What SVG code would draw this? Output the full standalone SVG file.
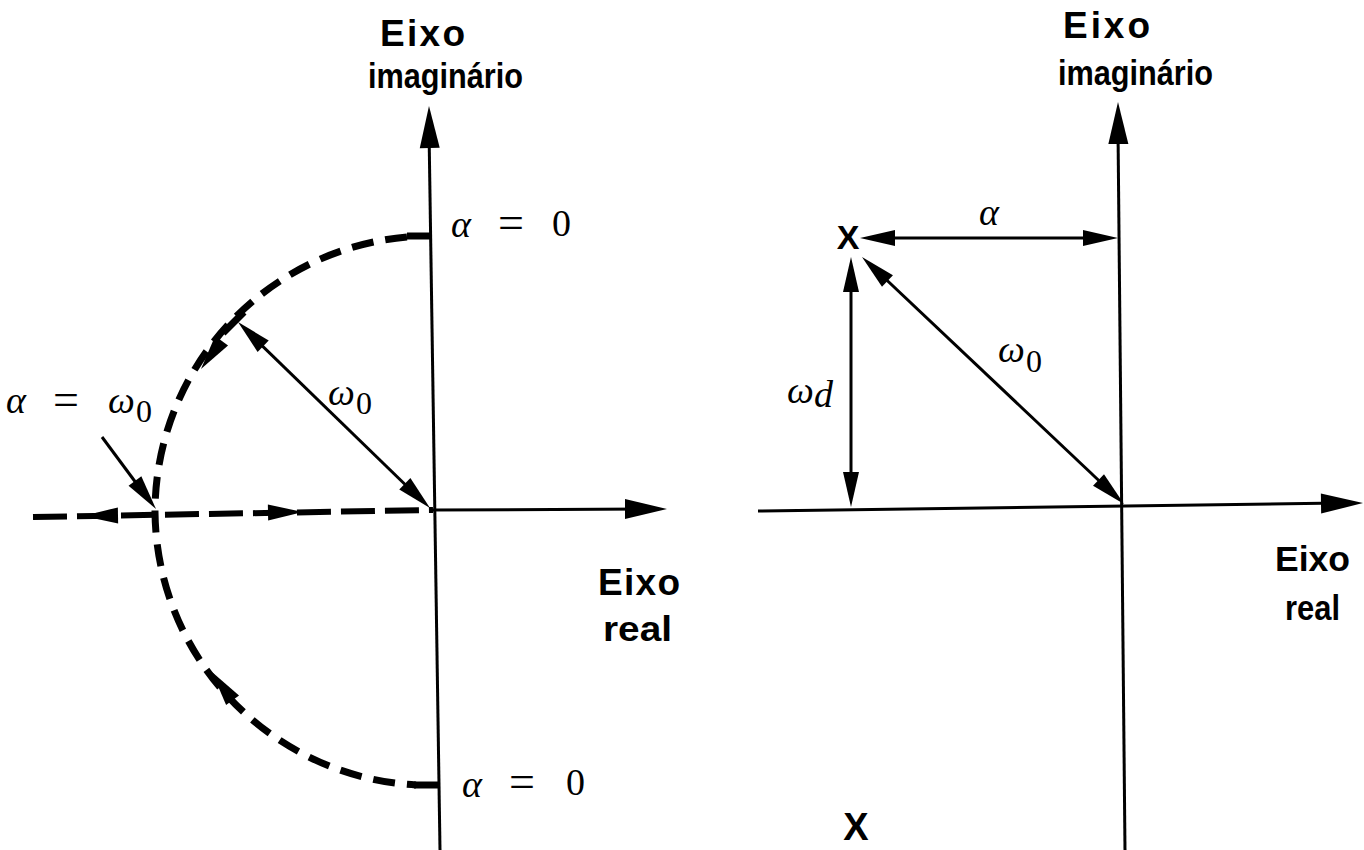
<svg xmlns="http://www.w3.org/2000/svg" xmlns:xlink="http://www.w3.org/1999/xlink" width="1364" height="850" viewBox="0 0 1364 850">
<style>
.lbl{font-family:"Liberation Sans",Arial,sans-serif;font-weight:bold;font-size:35px;fill:#000}
.big{font-size:37px}
.m{font-family:"Liberation Serif","Times New Roman",serif;font-size:38px;fill:#000}
.eq{font-family:"Liberation Serif","Times New Roman",serif;font-size:46px;fill:#000}
.mi{font-family:"Liberation Serif","Times New Roman",serif;font-style:italic;font-size:38px;fill:#000}
.sub{font-family:"Liberation Serif","Times New Roman",serif;font-size:32px;fill:#000}
.ln{stroke:#000;stroke-width:3;fill:none}
.dash{stroke:#000;stroke-width:7;fill:none;stroke-dasharray:22 12}
.tick{stroke:#000;stroke-width:7;fill:none}
.pole{font-family:"Liberation Sans",Arial,sans-serif;font-weight:bold;fill:#000}
</style>
<defs>
<path id="ah" d="M0,0 L-35,-8 L-35,8 Z" fill="#000"/>
<path id="ahb" d="M0,0 L-42,-10 L-42,10 Z" fill="#000"/>
</defs>
<rect width="1364" height="850" fill="#fff"/>

<g id="connectors">
  <!-- left diagram axes -->
  <line class="ln" x1="440" y1="850" x2="429" y2="130"/>
  <use xlink:href="#ahb" transform="translate(429,106) rotate(-91)"/>
  <line class="ln" x1="433" y1="510" x2="645" y2="509"/>
  <use xlink:href="#ahb" transform="translate(667,509) rotate(0)"/>
  <!-- left dashed real-axis locus -->
  <path d="M33,517 L433,510" stroke="#000" stroke-width="6" fill="none" stroke-dasharray="34 10"/>
  <use xlink:href="#ah" transform="translate(83,516) rotate(179)"/>
  <use xlink:href="#ah" transform="translate(303,512) rotate(-1)"/>
  <!-- dashed circle locus -->
  <path class="dash" d="M407,237 A276,276 0 0 0 155,512 A276,276 0 0 0 416,785"/>
  <line class="tick" x1="407" y1="236" x2="431" y2="236"/>
  <line class="tick" x1="414" y1="785" x2="439" y2="785"/>
  <use xlink:href="#ah" transform="translate(201,369) rotate(126)"/>
  <use xlink:href="#ah" transform="translate(212,672) rotate(-126)"/>
  <!-- radius omega0 -->
  <line class="tick" x1="223" y1="333" x2="244" y2="312"/>
  <line class="ln" x1="250" y1="334" x2="418" y2="497"/>
  <use xlink:href="#ah" transform="translate(430,508) rotate(44)"/>
  <use xlink:href="#ah" transform="translate(238,322) rotate(224)"/>
  <!-- alpha = omega0 pointer -->
  <line class="ln" x1="102" y1="437" x2="145" y2="495"/>
  <use xlink:href="#ah" transform="translate(156,509) rotate(53)"/>

  <!-- right diagram axes -->
  <line class="ln" x1="1125" y1="850" x2="1118" y2="130"/>
  <use xlink:href="#ahb" transform="translate(1118,102) rotate(-90.5)"/>
  <line class="ln" x1="758" y1="511" x2="1340" y2="503"/>
  <use xlink:href="#ahb" transform="translate(1363,503) rotate(-0.8)"/>
  <!-- alpha dimension -->
  <line class="ln" x1="880" y1="238" x2="1100" y2="238"/>
  <use xlink:href="#ah" transform="translate(860,238) rotate(180)"/>
  <use xlink:href="#ah" transform="translate(1118,238) rotate(0)"/>
  <!-- omega_d dimension -->
  <line class="ln" x1="851" y1="275" x2="851" y2="490"/>
  <use xlink:href="#ah" transform="translate(851,257) rotate(-90)"/>
  <use xlink:href="#ah" transform="translate(851,507) rotate(90)"/>
  <!-- omega0 radial -->
  <line class="ln" x1="875" y1="269" x2="1111" y2="492"/>
  <use xlink:href="#ah" transform="translate(862,257) rotate(223.3)"/>
  <use xlink:href="#ah" transform="translate(1124,504) rotate(43.3)"/>
</g>

<g id="left-labels">
  <text class="lbl big" x="380" y="46" textLength="85" lengthAdjust="spacing">Eixo</text>
  <text class="lbl" x="368" y="88" textLength="155" lengthAdjust="spacingAndGlyphs">imaginário</text>
  <text class="lbl big" x="598" y="595" textLength="82" lengthAdjust="spacing">Eixo</text>
  <text class="lbl" x="603" y="641" textLength="69" lengthAdjust="spacingAndGlyphs">real</text>
</g>
<g id="alpha0-top">
  <text class="mi" x="451" y="237">α</text>
  <text class="eq" x="498" y="238">=</text>
  <text class="m" x="552" y="236">0</text>
</g>
<g id="alpha0-bottom">
  <text class="mi" x="462" y="797">α</text>
  <text class="eq" x="509" y="797">=</text>
  <text class="m" x="566" y="795">0</text>
</g>
<g id="alpha-omega0">
  <text class="mi" x="6" y="413">α</text>
  <text class="eq" x="53" y="415">=</text>
  <text class="mi" x="108" y="413">ω</text>
  <text class="sub" x="136" y="422">0</text>
</g>
<g id="omega0-left">
  <text class="mi" x="328" y="405">ω</text>
  <text class="sub" x="356" y="414">0</text>
</g>

<g id="right-labels">
  <text class="lbl big" x="1063" y="38" textLength="87" lengthAdjust="spacing">Eixo</text>
  <text class="lbl" x="1058" y="85" textLength="155" lengthAdjust="spacingAndGlyphs">imaginário</text>
  <text class="lbl" x="1275" y="571" textLength="75" lengthAdjust="spacingAndGlyphs">Eixo</text>
  <text class="lbl" x="1285" y="620" textLength="55" lengthAdjust="spacingAndGlyphs">real</text>
</g>
<g id="pole-upper">
  <text class="pole" x="848" y="249" font-size="34" text-anchor="middle">X</text>
</g>
<g id="pole-lower">
  <text class="pole" x="856" y="840" font-size="38" text-anchor="middle">X</text>
</g>
<g id="alpha-right">
  <text class="mi" x="979" y="225">α</text>
</g>
<g id="omegad">
  <text class="mi" x="787" y="403">ω</text>
  <text class="mi" x="814" y="407" font-size="30">d</text>
</g>
<g id="omega0-right">
  <text class="mi" x="998" y="362">ω</text>
  <text class="sub" x="1026" y="372">0</text>
</g>
</svg>
